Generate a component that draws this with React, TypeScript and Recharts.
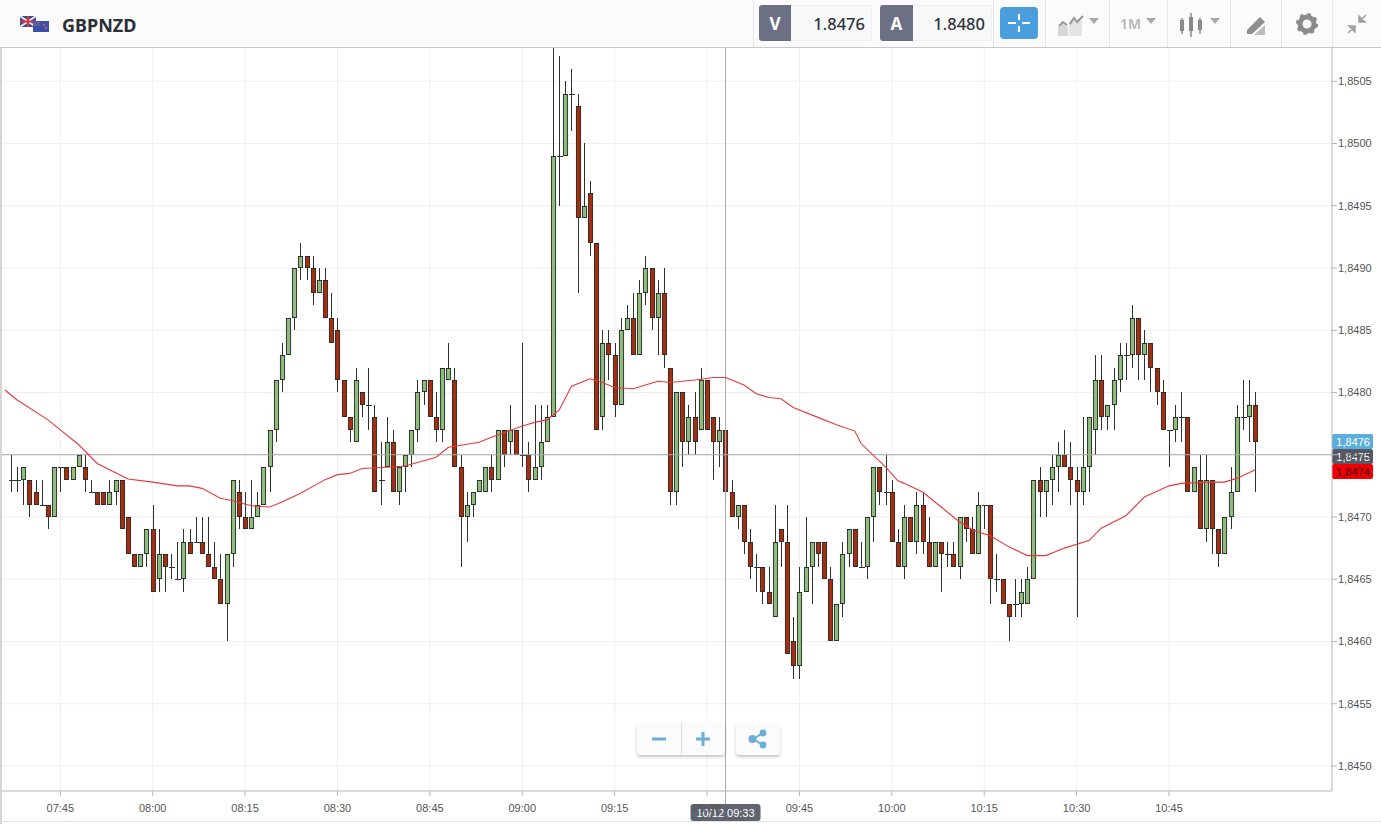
import React from "react";
import { ComposedChart, Bar, Line, XAxis, YAxis, CartesianGrid, ReferenceLine } from "recharts";

// Prices are in pips above 1.8400. The first candle sits 8 minutes before 07:45.
const firstCandleMinute = -8;
const opens = [
  73,73,73,73,72,71,71,70,74,74, 73,74,74,72,72,72,71,72,73,70,
  67,66,67,69,65,67,66,65,65,68, 68,68,67,66,65,63,67,72,70,69,
  70,71,74,77,81,83,86,90,91,90, 88,89,86,85,81,78,76,80,79,78,
  73,74,76,72,74,75,77,80,81,78, 77,81,81,74,70,71,72,72,74,73,
  77,76,77,75,75,73,74,76,78,99, 99,104,103,94,96,92,78,84,83,79,
  85,86,83,88,90,86,88,82,72,80, 76,78,77,81,78,76,77,72,70,71,
  68,66,66,64,62,69,68,60,58,64, 66,68,68,65,60,63,67,69,66,66,
  70,74,72,72,68,66,70,68,71,68, 66,68,67,67,66,70,69,67,71,71,
  65,65,63,63,63,63,65,73,72,73, 74,75,74,73,72,74,77,81,78,79,
  81,83,83,86,83,84,82,80,77,77, 78,78,72,73,69,73,69,67,70,72,
  78,78,79,
];
const highs = [
  75,74,74,73,73,73,71,74,74,74, 74,75,75,73,72,72,73,73,73,70,
  67,67,69,71,69,67,67,68,69,69, 70,70,70,68,67,67,73,73,72,73,
  72,74,77,81,84,86,90,92,91,91, 90,90,88,86,81,78,82,80,82,79,
  76,78,77,74,75,77,81,81,81,80, 82,84,82,75,72,72,73,74,75,77,
  77,79,77,84,76,79,79,79,108,107, 105,106,104,100,97,92,85,85,84,86,
  87,88,89,91,90,89,90,82,80,80, 79,80,82,81,78,78,77,73,71,71,
  69,67,66,66,71,69,71,62,66,70, 68,68,68,66,63,68,69,69,68,70,
  74,74,75,73,69,71,70,72,72,70, 68,68,68,68,70,70,70,72,71,71,
  67,65,63,65,65,66,73,74,73,75, 76,77,76,74,78,78,83,83,79,82,
  84,84,87,86,85,84,82,81,77,79, 80,78,74,75,75,73,69,70,74,79,
  81,81,80,
];
const lows = [
  72,72,71,70,71,71,69,70,72,73, 73,74,72,72,71,71,71,71,69,67,
  66,66,66,64,64,64,65,65,64,67, 68,67,66,65,63,60,66,69,69,69,
  70,71,72,76,80,83,85,89,89,87, 88,86,84,80,78,76,76,78,77,72,
  71,74,72,71,72,74,76,79,78,76, 76,81,74,66,68,70,72,72,72,73,
  74,75,75,74,72,73,73,76,78,95, 99,101,88,94,91,77,77,81,78,79,
  85,83,83,87,85,83,82,71,71,74, 75,75,77,77,73,74,71,70,69,67,
  65,64,63,63,62,66,59,57,57,64, 63,66,65,60,60,62,66,66,66,65,
  68,71,71,68,66,65,68,67,67,66, 66,64,66,66,65,68,67,67,69,63,
  64,63,60,62,62,63,65,70,70,71, 72,74,71,62,71,72,75,77,77,77,
  80,81,82,81,81,80,79,77,74,76, 76,72,72,69,68,67,66,67,69,72,
  77,76,72,
];
const closes = [
  73,73,74,71,71,71,70,74,74,73, 74,75,73,72,71,71,72,73,69,67,
  66,67,69,64,67,66,66,65,68,67, 68,67,66,65,63,67,73,70,69,70,
  71,74,77,81,83,86,90,91,90,88, 89,86,84,81,78,77,81,79,79,72,
  73,76,72,74,75,77,80,81,78,77, 82,82,74,70,71,72,73,74,73,77,
  75,77,75,75,73,74,76,78,99,99, 104,104,94,95,92,77,84,83,79,85,
  86,83,88,90,86,88,83,72,80,76, 78,76,81,77,76,77,72,70,71,68,
  66,66,64,63,68,68,59,58,64,66, 68,67,65,60,63,67,69,66,66,70,
  74,72,72,68,66,70,68,71,68,66, 68,67,67,66,70,69,67,71,71,65,
  65,63,62,63,64,65,73,72,73,74, 75,74,73,72,74,78,81,78,79,81,
  83,83,86,83,84,82,80,77,77,78, 78,72,74,69,73,69,67,70,72,78,
  78,79,76,
];

const maMinutes = [
  -9,-7,-2,0,3,6,8,11,15,19,21,23,26,28,31,34,36,39,43,45,47,49,53,56,61,63,68,70,75,77,79,81,83,86,88,90,93,95,97,99,
  103,106,108,111,113,115,117,119,123,126,129,130,134,136,137,140,143,146,148,149,151,154,157,160,163,167,169,173,176,180,182,186,189,191,194,
];
const maValues = [
  80.2,79.4,77.8,77.0,75.8,74.3,73.8,73.05,72.8,72.5,72.5,72.3,71.5,71.3,70.9,70.8,71.2,71.9,73.0,73.4,73.5,73.9,74.0,74.1,74.8,75.6,76.0,76.4,77.3,77.6,77.8,78.6,80.5,81.1,80.8,80.4,80.3,80.6,80.9,80.8,
  81.0,81.2,81.2,80.6,79.9,79.6,79.5,78.8,78.0,77.4,76.9,75.9,74.0,72.9,72.7,72.0,70.8,69.6,69.0,68.8,68.5,67.6,66.9,66.9,67.5,68.1,69.1,70.1,71.6,72.5,72.7,72.8,72.8,73.1,73.8,
];

const xTicks = [0,15,30,45,60,75,90,105,120,135,150,165,180];
const xTickLabels = ["07:45","08:00","08:15","08:30","08:45","09:00","09:15","09:30","09:45","10:00","10:15","10:30","10:45"];
const yTicks = [50,55,60,65,70,75,80,85,90,95,100,105];
const yTickLabels = ["1,8450","1,8455","1,8460","1,8465","1,8470","1,8475","1,8480","1,8485","1,8490","1,8495","1,8500","1,8505"];

const crosshairMinute = 108;
const crosshairPrice = 75;
const crosshairTimeLabel = "10/12 09:33";
const bidPrice = 76;
const bidLabel = "1,8476";
const currentLabel = "1,8475";
const askPrice = 74;
const askLabel = "1,8474";

const rowMap = new Map<number, any>();
const rowAt = (m: number) => {
  if (!rowMap.has(m)) rowMap.set(m, { m });
  return rowMap.get(m);
};
opens.forEach((o, i) => {
  const r = rowAt(firstCandleMinute + i);
  r.o = o; r.h = highs[i]; r.l = lows[i]; r.c = closes[i];
});
maMinutes.forEach((m, i) => { rowAt(m).ma = maValues[i]; });
const rows = [...rowMap.values()].sort((a, b) => a.m - b.m);

const UP = "#8fbb7c";
const DOWN = "#a82c10";
const EDGE = "#1f261f";

function Candle(props: any) {
  const { x, y, width, height, payload } = props;
  if (payload == null || payload.h == null || !height) return null;
  const perPip = height / (payload.h - payload.l);
  const cx = Math.round(x + width / 2) + 0.5;
  const yOf = (v: number) => y + (payload.h - v) * perPip;
  const top = Math.round(yOf(Math.max(payload.o, payload.c))) + 0.5;
  const bottom = Math.round(yOf(Math.min(payload.o, payload.c))) - 0.5;
  const hi = Math.round(yOf(payload.h));
  const lo = Math.round(yOf(payload.l));
  const flat = payload.o === payload.c;
  return (
    <g>
      <line x1={cx} x2={cx} y1={hi} y2={lo} stroke="#2c322c" strokeWidth={1} shapeRendering="crispEdges" />
      {flat ? (
        <line x1={cx - 3} x2={cx + 3} y1={top} y2={top} stroke="#2c322c" strokeWidth={1} shapeRendering="crispEdges" />
      ) : (
        <rect
          x={cx - 2.1}
          y={top}
          width={4.2}
          height={Math.max(1, bottom - top)}
          fill={payload.c > payload.o ? UP : DOWN}
          stroke={EDGE}
          strokeWidth={0.9}
        />
      )}
    </g>
  );
}

const tickFont = "'Liberation Sans', Arial, sans-serif";

const PriceTag = (fill: string, text: string, color: string, centre: number) => (p: any) => {
  const x = p.viewBox.x + p.viewBox.width;
  return (
    <g>
      <rect x={x} y={centre - 7.5} width={41} height={15} rx={2} fill={fill} />
      <text x={x + 38} y={centre + 4} textAnchor="end" fontSize={11} fontFamily={tickFont} fill={color}>{text}</text>
    </g>
  );
};

const TimeTag = (p: any) => {
  const cx = p.viewBox.x;
  const bottom = p.viewBox.y + p.viewBox.height;
  return (
    <g>
      <line x1={cx} x2={cx} y1={bottom} y2={bottom + 14} stroke="#a8a8a8" />
      <rect x={cx - 35} y={bottom + 13} width={70} height={17} rx={3} fill="#555a66" fillOpacity={0.94} />
      <text x={cx} y={bottom + 25.5} textAnchor="middle" fontSize={11} fontFamily={tickFont} fill="#fff">{crosshairTimeLabel}</text>
    </g>
  );
};

const abs = (left: number, top: number, width: number, height: number): React.CSSProperties => ({
  position: "absolute", left, top, width, height,
});

const Sep = ({ x }: { x: number }) => <div style={{ ...abs(x, 0, 1, 47), background: "#e6e6e6" }} />;
const Caret = ({ x, y }: { x: number; y: number }) => (
  <svg style={abs(x, y, 10, 6)} viewBox="0 0 10 6"><path d="M0 0H10L5 6Z" fill="#a9a9a9" /></svg>
);

function Header() {
  const font = "'Noto Sans', sans-serif";
  const label: React.CSSProperties = {
    background: "#6b7085", color: "#fff", fontWeight: 700, fontSize: 17, fontFamily: font,
    display: "flex", alignItems: "center", justifyContent: "center", borderRadius: "3px 0 0 3px",
  };
  const value: React.CSSProperties = {
    background: "#f8f8f8", color: "#30343c", fontSize: 16.5, fontWeight: 500, fontFamily: font,
    display: "flex", alignItems: "center", justifyContent: "flex-end", paddingRight: 6, boxSizing: "border-box",
    borderRadius: "0 3px 3px 0", border: "1px solid #eee", borderLeft: "none",
  };
  return (
    <div style={{ ...abs(0, 0, 1381, 48), background: "#fbfbfb", borderBottom: "1px solid #c8c8c8", boxSizing: "border-box" }}>
      <svg style={abs(20, 15, 29, 18)} viewBox="0 0 29 18">
        <rect x="0" y="1" width="16" height="11" fill="#3a4a8c" />
        <path d="M0 1L16 12M16 1L0 12" stroke="#e8e8f0" strokeWidth="2" />
        <path d="M8 1V12M0 6.5H16" stroke="#d8343c" strokeWidth="2" />
        <rect x="13" y="6" width="16" height="11" fill="#3c4fa8" />
        <rect x="13" y="6" width="7" height="5" fill="#5a5f9c" />
        <circle cx="24" cy="10" r="1" fill="#e86060" />
        <circle cx="26" cy="13" r="1" fill="#e86060" />
      </svg>
      <div style={{ ...abs(62, 11, 100, 28), fontFamily: font, fontWeight: 700, fontSize: 18, lineHeight: "28px", color: "#2b2f36" }}>GBPNZD</div>
      <Sep x={753} />
      <div style={{ ...abs(759, 5, 32, 36), ...label }}>V</div>
      <div style={{ ...abs(791, 5, 81, 36), ...value }}>1.8476</div>
      <div style={{ ...abs(880, 5, 33, 36), ...label }}>A</div>
      <div style={{ ...abs(913, 5, 79, 36), ...value }}>1.8480</div>
      <Sep x={993} />
      <div style={{ ...abs(1000, 7, 38, 32), background: "#4a9ede", borderRadius: 4 }}>
        <svg style={abs(7, 6, 24, 20)} viewBox="0 0 24 20">
          <path d="M1 10H9M15 10H23M12 1V7M12 13V19" stroke="#fff" strokeWidth="2" />
        </svg>
      </div>
      <Sep x={1045} />
      <svg style={abs(1058, 14, 26, 22)} viewBox="0 0 26 22">
        <path d="M0 13L5 9L10 13V22H0Z" fill="#d8d8d8" />
        <path d="M11 6H24V22H11Z" fill="#e4e4e4" />
        <path d="M1 12L5 8L9 11M12 10L16 4L19 8L25 2" stroke="#999" strokeWidth="2" fill="none" />
      </svg>
      <Caret x={1089} y={18} />
      <Sep x={1109} />
      <div style={{ ...abs(1120, 14, 24, 20), fontFamily: font, fontWeight: 600, fontSize: 14, lineHeight: "20px", color: "#b5b5b5" }}>1M</div>
      <Caret x={1146} y={18} />
      <Sep x={1167} />
      <svg style={abs(1179, 13, 24, 24)} viewBox="0 0 24 24">
        <path d="M3 5V21M12 0V24M21 5V21" stroke="#8a8a8a" strokeWidth="1.5" />
        <rect x="1" y="7" width="4" height="11" fill="#8a8a8a" />
        <rect x="10" y="4" width="4" height="14" fill="#8a8a8a" />
        <rect x="19" y="7" width="4" height="10" fill="#8a8a8a" />
      </svg>
      <Caret x={1210} y={18} />
      <Sep x={1230} />
      <svg style={abs(1245, 14, 22, 22)} viewBox="0 0 22 22">
        <path d="M2 16L15 3L20 8L7 20H2Z" fill="#8f8f8f" />
        <path d="M9 21L20 11V21Z" fill="#bdbdbd" />
      </svg>
      <Sep x={1281} />
      <svg style={abs(1296, 13, 22, 22)} viewBox="0 0 22 22">
        <circle cx="11" cy="11" r="7" fill="none" stroke="#8a8a8a" strokeWidth="5" />
        <circle cx="11" cy="11" r="9.5" fill="none" stroke="#8a8a8a" strokeWidth="3" strokeDasharray="3.5 3.96" />
      </svg>
      <Sep x={1332} />
      <svg style={abs(1346, 13, 22, 22)} viewBox="0 0 22 22">
        <path d="M13 3V9H19Z M13 9L20 2" fill="#a0a0a0" stroke="#a0a0a0" strokeWidth="1.5" />
        <path d="M9 19V13H3Z M9 13L2 20" fill="#a0a0a0" stroke="#a0a0a0" strokeWidth="1.5" />
      </svg>
    </div>
  );
}

function ZoomControls() {
  const box: React.CSSProperties = {
    background: "#fbfbfb", borderRadius: 3, boxShadow: "0 2px 3px rgba(0,0,0,0.22)",
  };
  return (
    <>
      <div style={{ ...abs(637, 723, 88, 32), ...box }}>
        <div style={{ ...abs(44, 0, 1, 32), background: "#dedede" }} />
        <svg style={abs(15, 9, 58, 14)} viewBox="0 0 58 14">
          <path d="M0 7H14M44 7H58M51 0V14" stroke="#6aafdc" strokeWidth="3" />
        </svg>
      </div>
      <div style={{ ...abs(736, 723, 44, 32), ...box }}>
        <svg style={abs(12, 6, 20, 20)} viewBox="0 0 20 20">
          <path d="M15 4L5 10L15 16" stroke="#6aafdc" strokeWidth="2" fill="none" />
          <circle cx="15" cy="4" r="3.4" fill="#6aafdc" />
          <circle cx="4.5" cy="10" r="4" fill="#6aafdc" />
          <circle cx="15" cy="16" r="3.4" fill="#6aafdc" />
        </svg>
      </div>
    </>
  );
}

export default function App() {
  return (
    <div style={{ position: "fixed", left: 0, top: 0, width: 1381, height: 824, background: "#fff", overflow: "hidden" }}>
      <div style={abs(0, 0, 1381, 824)}>
        <ComposedChart
          width={1381}
          height={824}
          data={rows}
          margin={{ top: 48, right: 0, bottom: 0, left: 0 }}
        >
          <CartesianGrid stroke="#efefef" strokeWidth={1} syncWithTicks />
          <XAxis
            dataKey="m"
            type="number"
            domain={[-9.79, 206.46]}
            allowDataOverflow
            ticks={xTicks}
            interval={0}
            height={33}
            tickSize={5}
            tickLine={{ stroke: "#b5b5b5" }}
            axisLine={{ stroke: "#b5b5b5" }}
            tickFormatter={(v: number) => xTickLabels[xTicks.indexOf(v)]}
            tick={{ fontSize: 11, fontFamily: tickFont, fill: "#555" }}
            tickMargin={8}
          />
          <YAxis
            orientation="right"
            type="number"
            width={49}
            domain={[47.99, 107.67]}
            allowDataOverflow
            ticks={yTicks}
            interval={0}
            tickSize={5}
            tickLine={{ stroke: "#b5b5b5" }}
            axisLine={{ stroke: "#b5b5b5" }}
            tickFormatter={(v: number) => yTickLabels[yTicks.indexOf(v)]}
            tick={{ fontSize: 11, fontFamily: tickFont, fill: "#555" }}
            tickMargin={1}
          />
          <ReferenceLine x={crosshairMinute} stroke="#a8a8a8" label={TimeTag as any} />
          <ReferenceLine y={crosshairPrice} stroke="#a8a8a8" label={PriceTag("#555a66", currentLabel, "#fff", 456.5) as any} />
          <ReferenceLine y={bidPrice} stroke="none" label={PriceTag("#5aaedc", bidLabel, "#fff", 441.5) as any} />
          <ReferenceLine y={askPrice} stroke="none" label={PriceTag("#f00000", askLabel, "#4a0000", 471.5) as any} />
          <Bar
            dataKey={(r: any) => (r.h == null ? null : [r.l, r.h])}
            barSize={6}
            shape={Candle}
            isAnimationActive={false}
          />
          <Line
            dataKey="ma"
            type="linear"
            stroke="#e6393c"
            strokeWidth={1.1}
            dot={false}
            activeDot={false}
            connectNulls
            isAnimationActive={false}
          />
        </ComposedChart>
      </div>
      <div style={{ ...abs(0, 48, 2, 776), background: "#d6d6d6" }} />
      <div style={{ ...abs(0, 821, 1381, 1), background: "#e2e2e2" }} />
      <ZoomControls />
      <Header />
    </div>
  );
}
